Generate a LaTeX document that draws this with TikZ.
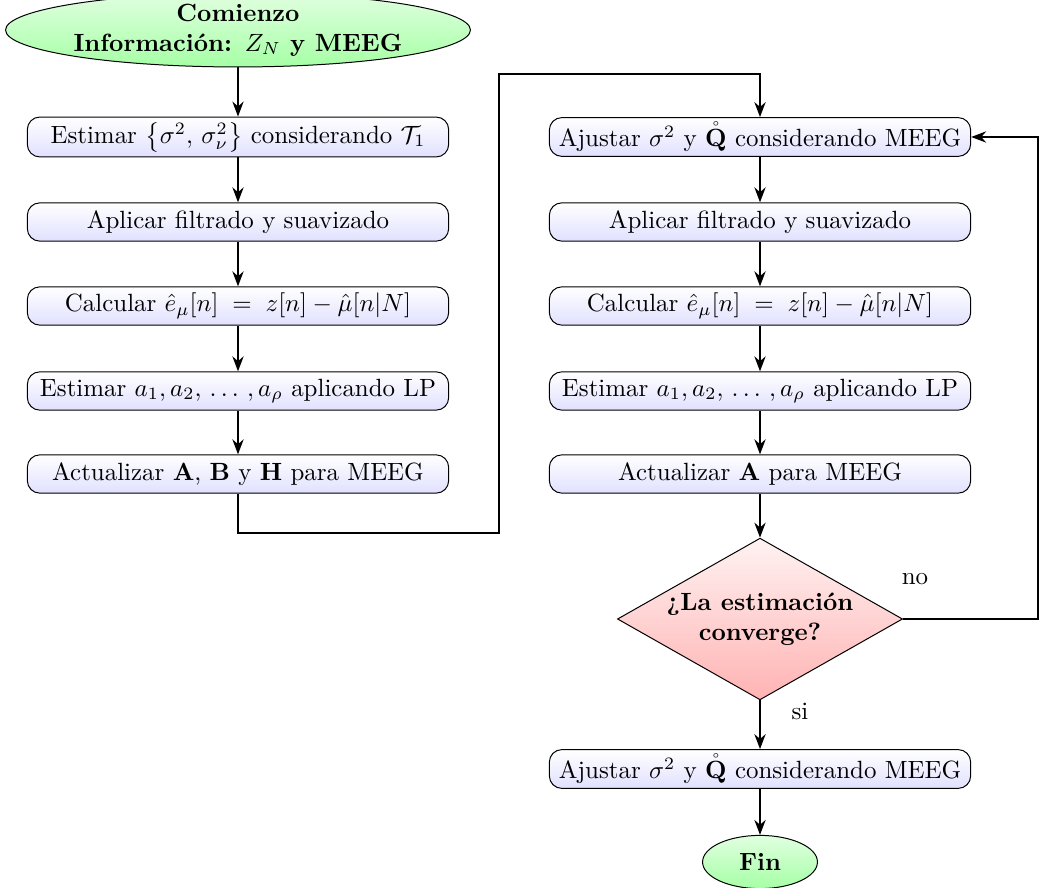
\documentclass[tikz,border=0pt]{standalone}
\usepackage{amsmath,amssymb}
\usetikzlibrary{shapes.geometric,arrows.meta}
\begin{document}
\begin{tikzpicture}[x=0.0141cm,y=-0.0141cm,
  stepbox/.style={draw, rounded corners=5pt, minimum width=5.94cm, minimum height=0.54cm,
    top color=white, bottom color=blue!12, inner sep=2pt},
  term/.style={ellipse, draw, top color=green!12, bottom color=green!35, font=\bfseries,
    align=center, inner sep=0pt},
  decide/.style={diamond, draw, top color=red!5, bottom color=red!30, font=\bfseries,
    align=center, shape aspect=1.76, minimum width=4.02cm, minimum height=2.28cm, inner sep=0pt},
  conn/.style={thick, -{Stealth[length=6pt,width=4.5pt]}},
  lbl/.style={inner sep=0pt}]
\useasboundingbox (0,0) rectangle (1039,888);

\node[term, minimum width=6.49cm, minimum height=0.85cm] (start) at (238,30)
  {Comienzo\\Información: $Z_N$ y MEEG};

\node[stepbox] (L1) at (238,137) {Estimar $\left\{\sigma^2,\,\sigma_\nu^2\right\}$ considerando $\mathcal{T}_1$};
\node[stepbox] (L2) at (238,222) {Aplicar filtrado y suavizado};
\node[stepbox] (L3) at (238,306) {Calcular $\hat{e}_{\mu}[n]\;=\;z[n]-\hat{\mu}[n|N]$};
\node[stepbox] (L4) at (238,391) {Estimar $a_1,a_2,\,\ldots\,,a_\rho$ aplicando LP};
\node[stepbox] (L5) at (238,474) {Actualizar $\mathbf{A}$, $\mathbf{B}$ y $\mathbf{H}$ para MEEG};

\node[stepbox] (R1) at (760,137) {Ajustar $\sigma^2$ y $\mathring{\mathbf{Q}}$ considerando MEEG};
\node[stepbox] (R2) at (760,222) {Aplicar filtrado y suavizado};
\node[stepbox] (R3) at (760,306) {Calcular $\hat{e}_{\mu}[n]\;=\;z[n]-\hat{\mu}[n|N]$};
\node[stepbox] (R4) at (760,391) {Estimar $a_1,a_2,\,\ldots\,,a_\rho$ aplicando LP};
\node[stepbox] (R5) at (760,474) {Actualizar $\mathbf{A}$ para MEEG};

\node[decide] (D) at (760,619) {¿La estimación\\converge?};

\node[stepbox] (R6) at (760,769) {Ajustar $\sigma^2$ y $\mathring{\mathbf{Q}}$ considerando MEEG};
\node[term, minimum width=1.62cm, minimum height=0.75cm] (fin) at (760,862) {Fin};

\coordinate (c1) at (238,533);
\coordinate (c2) at (499,533);
\coordinate (c3) at (499,74);
\coordinate (c4) at (760,74);
\coordinate (c5) at (1038,619);
\coordinate (c6) at (1038,137);

\draw[conn] (start) -- (L1);
\draw[conn] (L1) -- (L2);
\draw[conn] (L2) -- (L3);
\draw[conn] (L3) -- (L4);
\draw[conn] (L4) -- (L5);
\draw[conn] (L5) -- (c1) -- (c2) -- (c3) -- (c4) -- (R1);
\draw[conn] (R1) -- (R2);
\draw[conn] (R2) -- (R3);
\draw[conn] (R3) -- (R4);
\draw[conn] (R4) -- (R5);
\draw[conn] (R5) -- (D);
\draw[conn] (D) -- (R6);
\draw[conn] (R6) -- (fin);
\draw[conn] (D.east) -- (c5) -- (c6) -- (R1.east);

\node[lbl] (no) at (915,579) {no};
\node[lbl] (si) at (800,711) {si};
\end{tikzpicture}
\end{document}
